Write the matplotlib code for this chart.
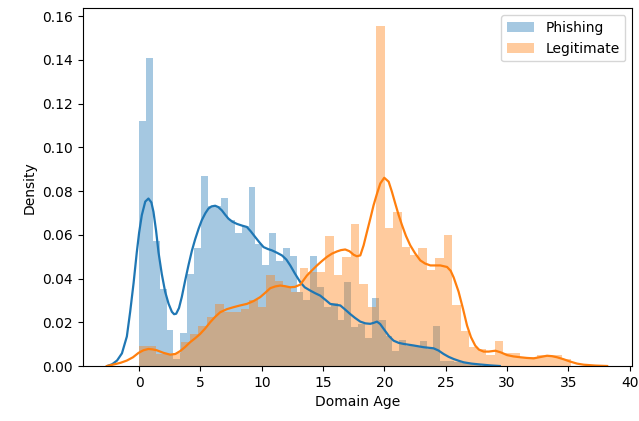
import numpy as np
from matplotlib import pyplot as plt

# histogramas (densidade)
phish_start = 0.0
phish_width = 0.558
phish_hist = [0.112, 0.141, 0.057, 0.035, 0.0165, 0.003, 0.015, 0.042, 0.054, 0.087,
              0.073, 0.073, 0.077, 0.067, 0.061, 0.064, 0.082, 0.056, 0.046, 0.061,
              0.048, 0.054, 0.0505, 0.034, 0.030, 0.0505, 0.036, 0.027, 0.029, 0.021,
              0.0385, 0.018, 0.019, 0.0126, 0.031, 0.021, 0.0136, 0.007, 0.012, 0.0093,
              0.0093, 0.0116, 0.0078, 0.0185, 0.0025, 0.0025, 0.002, 0.0015, 0.001, 0.001]

legit_start = 0.0
legit_width = 0.69
legit_hist = [0.0093, 0.0093, 0.0055, 0.0055, 0.006, 0.011, 0.0147, 0.0185, 0.0224, 0.0284,
              0.0247, 0.0247, 0.026, 0.030, 0.027, 0.0414, 0.039, 0.0368, 0.034, 0.045,
              0.043, 0.043, 0.0595, 0.0414, 0.050, 0.065, 0.0376, 0.027, 0.1555, 0.063,
              0.0706, 0.0545, 0.051, 0.054, 0.044, 0.0494, 0.060, 0.028, 0.0162, 0.0085,
              0.008, 0.005, 0.0116, 0.006, 0.006, 0.004, 0.004, 0.005, 0.005, 0.005, 0.003]

# curvas kde
phish_kde_x = [-2.6, -2.2, -1.8, -1.4, -1.0, -0.73, -0.45, -0.19, 0.0, 0.22, 0.5, 0.76, 1.0,
               1.17, 1.38, 1.58, 1.85, 2.12, 2.4, 2.67, 2.85, 3.02, 3.25, 3.48, 3.75, 4.02,
               4.3, 4.57, 4.85, 5.11, 5.4, 5.65, 5.9, 6.2, 6.45, 6.74, 7.0, 7.28, 7.6, 7.97,
               8.4, 8.78, 9.1, 9.46, 9.8, 10.14, 10.5, 10.82, 11.2, 11.64, 12.0, 12.32, 12.7,
               13.13, 13.5, 13.95, 14.35, 14.76, 15.2, 15.58, 16.0, 16.4, 16.8, 17.2, 17.6,
               18.03, 18.45, 18.84, 19.1, 19.39, 19.65, 19.93, 20.35, 20.74, 21.15, 21.56,
               22.37, 23.19, 24.0, 24.4, 24.82, 25.23, 25.64, 26.05, 26.45, 27.1, 27.8,
               28.6, 29.4]
phish_kde_y = [0, 0.0008, 0.0025, 0.0058, 0.0135, 0.0248, 0.038, 0.052, 0.061, 0.069, 0.0752,
               0.0766, 0.0748, 0.0705, 0.062, 0.052, 0.042, 0.034, 0.0285, 0.0248, 0.0237,
               0.0239, 0.0265, 0.0316, 0.039, 0.046, 0.0527, 0.058, 0.0628, 0.0667, 0.0699,
               0.072, 0.073, 0.0733, 0.0727, 0.0712, 0.0693, 0.0674, 0.066, 0.065, 0.0642,
               0.0636, 0.0616, 0.059, 0.0566, 0.0544, 0.0535, 0.0529, 0.0519, 0.0506, 0.0487,
               0.046, 0.0423, 0.0384, 0.036, 0.0345, 0.0333, 0.0322, 0.0302, 0.0284, 0.028,
               0.0277, 0.0258, 0.0238, 0.022, 0.0203, 0.0195, 0.0193, 0.0197, 0.0203, 0.0192,
               0.017, 0.0138, 0.0116, 0.0106, 0.0101, 0.0094, 0.0086, 0.0081, 0.0071, 0.0055,
               0.0042, 0.0032, 0.0024, 0.0017, 0.0011, 0.0007, 0.0003, 0]

legit_kde_x = [-2.63, -2.0, -1.5, -1.0, -0.5, -0.05, 0.35, 0.76, 1.1, 1.44, 2.0, 2.53, 2.95,
               3.34, 3.75, 4.16, 4.57, 4.98, 5.39, 5.79, 6.2, 6.61, 7.15, 7.69, 8.23, 8.78,
               9.33, 9.87, 10.28, 10.69, 11.1, 11.5, 11.9, 12.32, 12.7, 13.13, 13.68, 14.1,
               14.5, 14.9, 15.31, 15.72, 16.13, 16.45, 16.8, 17.15, 17.48, 17.75, 18.03,
               18.3, 18.57, 18.85, 19.11, 19.4, 19.66, 19.98, 20.34, 20.6, 20.88, 21.15,
               21.43, 21.75, 22.1, 22.5, 22.92, 23.3, 23.74, 24.15, 24.55, 25.1, 25.4, 25.64,
               26.04, 26.4, 26.73, 27.05, 27.4, 27.7, 28.08, 28.5, 29.04, 29.5, 29.99, 30.5,
               31.08, 31.6, 32.16, 32.7, 33.25, 33.65, 34.07, 34.6, 35.15, 35.7, 36.24, 37.2,
               38.15]
legit_kde_y = [0, 0.0008, 0.0015, 0.0025, 0.004, 0.006, 0.0072, 0.0078, 0.0076, 0.0072,
               0.006, 0.0052, 0.0055, 0.0068, 0.0087, 0.0109, 0.0127, 0.0147, 0.0172, 0.02,
               0.0225, 0.0246, 0.026, 0.0269, 0.0277, 0.0284, 0.0297, 0.0315, 0.0335, 0.0356,
               0.0364, 0.0368, 0.0365, 0.036, 0.0362, 0.0372, 0.0414, 0.0438, 0.046, 0.048,
               0.0499, 0.0514, 0.0524, 0.053, 0.0533, 0.0525, 0.0509, 0.0502, 0.0506, 0.0552,
               0.0613, 0.0675, 0.0735, 0.079, 0.0835, 0.0861, 0.0843, 0.0798, 0.0743, 0.0691,
               0.0644, 0.0595, 0.0552, 0.0515, 0.0483, 0.0469, 0.046, 0.046, 0.046, 0.0453,
               0.0435, 0.0405, 0.034, 0.0262, 0.0185, 0.0132, 0.0093, 0.0075, 0.0066, 0.0066,
               0.007, 0.0062, 0.005, 0.0044, 0.004, 0.0037, 0.0035, 0.0041, 0.0047, 0.0045,
               0.004, 0.0031, 0.002, 0.0011, 0.0006, 0.0002, 0]

fig = plt.figure(figsize=(6.39, 4.21), dpi=100)
ax = fig.add_axes([0.1294, 0.1306, 0.8601, 0.8497])

phish_left = phish_start + phish_width * np.arange(len(phish_hist))
legit_left = legit_start + legit_width * np.arange(len(legit_hist))

ax.bar(phish_left, phish_hist, width=phish_width, align="edge", color="C0", alpha=0.4,
       linewidth=0, label="Phishing")
ax.plot(phish_kde_x, phish_kde_y, color="C0", linewidth=1.6)
ax.bar(legit_left, legit_hist, width=legit_width, align="edge", color="C1", alpha=0.4,
       linewidth=0, label="Legitimate")
ax.plot(legit_kde_x, legit_kde_y, color="C1", linewidth=1.6)

ax.set_xlim(-4.6, 40.2)
ax.set_ylim(0, 0.1636)
ax.set_xlabel("Domain Age")
ax.set_ylabel("Density")
ax.legend(loc="upper right")

plt.savefig("out.png")
